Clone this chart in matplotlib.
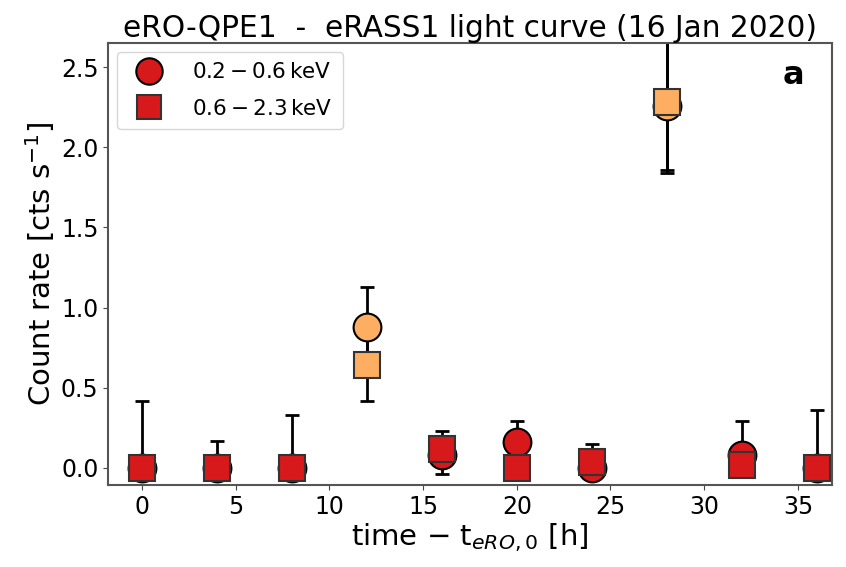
import numpy as np
import matplotlib
matplotlib.use("Agg")
import matplotlib.pyplot as plt

# time since t_eRO,0 [h]
t = [0, 4, 8, 12, 16, 20, 24, 28, 32, 36]

# 0.2-0.6 keV (circles)
soft = [0.0, 0.0, 0.0, 0.88, 0.08, 0.16, 0.0, 2.26, 0.08, 0.0]
soft_lo = [0.0, 0.0, 0.0, 0.25, 0.12, 0.0, 0.0, 0.42, 0.0, 0.0]
soft_hi = [0.42, 0.17, 0.33, 0.25, 0.12, 0.13, 0.0, 0.42, 0.21, 0.36]

# 0.6-2.3 keV (squares)
hard = [0.0, 0.0, 0.0, 0.64, 0.12, 0.0, 0.04, 2.28, 0.02, 0.0]
hard_lo = [0.0, 0.0, 0.0, 0.22, 0.11, 0.0, 0.0, 0.42, 0.0, 0.0]
hard_hi = [0.0, 0.0, 0.0, 0.22, 0.11, 0.0, 0.11, 0.44, 0.0, 0.0]

flare = [False, False, False, True, False, False, False, True, False, False]

red = '#d7191c'
orange = '#fdae61'

fig = plt.figure(figsize=(8.46, 5.67), dpi=100)
ax = fig.add_axes([0.128, 0.145, 0.855, 0.779])

cols = [orange if f else red for f in flare]

ax.errorbar(t, soft, yerr=[soft_lo, soft_hi], fmt='none', ecolor='k',
            elinewidth=2, capsize=5, capthick=2, zorder=1)
ax.errorbar(t, hard, yerr=[hard_lo, hard_hi], fmt='none', ecolor='k',
            elinewidth=2, capsize=5, capthick=2, zorder=1)

for i in range(len(t)):
    ax.plot(t[i], soft[i], 'o', ms=20, mfc=cols[i], mec='k', mew=1.5, zorder=2)
for i in range(len(t)):
    ax.plot(t[i], hard[i], 's', ms=19, mfc=cols[i], mec='#333333', mew=1.5, zorder=3)

ax.plot([], [], 'o', ms=19, mfc=red, mec='k', mew=1.5, label=r'$0.2-0.6\,\mathrm{keV}$')
ax.plot([], [], 's', ms=17, mfc=red, mec='#333333', mew=1.5, label=r'$0.6-2.3\,\mathrm{keV}$')
ax.legend(loc='upper left', fontsize=15.5, handletextpad=1.0, borderpad=0.5,
          labelspacing=0.75, borderaxespad=0.4)

ax.set_xlim(-1.8, 36.8)
ax.set_ylim(-0.105, 2.65)
ax.set_xticks([0, 5, 10, 15, 20, 25, 30, 35])
ax.set_yticks([0.0, 0.5, 1.0, 1.5, 2.0, 2.5])
ax.tick_params(labelsize=17, color='#444444')
for s in ax.spines.values():
    s.set_color('#555555')
    s.set_linewidth(1.5)
ax.set_xlabel(r'time $-$ t$_{eRO,0}$ [h]', fontsize=21, labelpad=2)
ax.set_ylabel(r'Count rate [cts s$^{-1}$]', fontsize=21, labelpad=3)
ax.set_title('eRO-QPE1  -  eRASS1 light curve (16 Jan 2020)', fontsize=21.3, pad=4)
ax.text(0.962, 0.926, 'a', transform=ax.transAxes, fontsize=23,
        fontweight='bold', ha='right', va='center')

fig.savefig('out.png', dpi=100)
